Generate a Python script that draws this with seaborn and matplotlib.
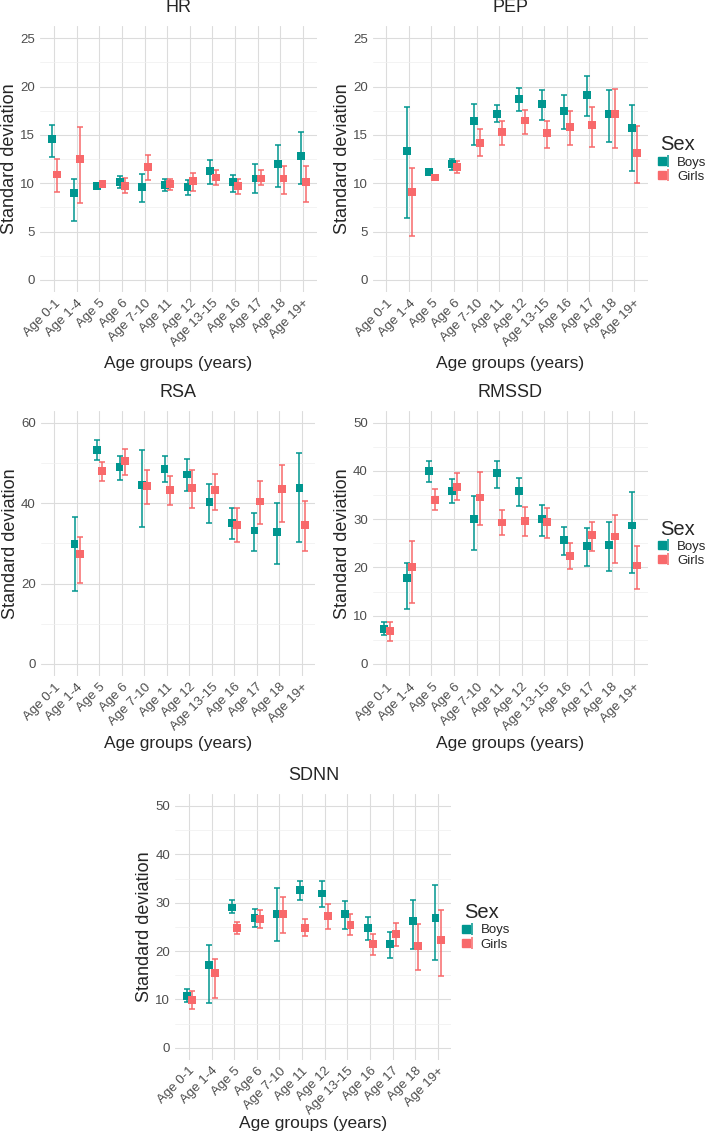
import numpy as np
import pandas as pd
import matplotlib
matplotlib.use("Agg")
import matplotlib.pyplot as plt
import seaborn as sns
from matplotlib.lines import Line2D
from matplotlib.legend_handler import HandlerTuple
from matplotlib.ticker import MultipleLocator

nan = np.nan

ages = ["Age 0-1", "Age 1-4", "Age 5", "Age 6", "Age 7-10", "Age 11",
        "Age 12", "Age 13-15", "Age 16", "Age 17", "Age 18", "Age 19+"]
sexes = ["Boys", "Girls"]

# HR
hr_boys = [14.6, 9.0, 9.7, 10.1, 9.6, 9.8, 9.6, 11.3, 10.1, 10.5, 12.0, 12.8]
hr_boys_lo = [12.7, 6.1, 9.4, 9.5, 8.1, 9.2, 8.8, 9.9, 9.1, 9.0, 9.6, 9.9]
hr_boys_hi = [16.0, 10.4, 9.9, 10.8, 11.0, 10.4, 10.3, 12.4, 10.9, 12.0, 14.0, 15.3]
hr_girls = [10.9, 12.5, 9.9, 9.7, 11.7, 9.9, 10.2, 10.6, 9.7, 10.5, 10.5, 10.1]
hr_girls_lo = [9.1, 8.0, 9.6, 9.0, 10.3, 9.3, 9.2, 9.8, 8.9, 9.8, 8.9, 8.1]
hr_girls_hi = [12.5, 15.8, 10.1, 10.5, 12.9, 10.4, 11.1, 11.4, 10.4, 11.4, 11.8, 11.8]

# PEP
pep_boys = [nan, 13.3, 11.2, 12.0, 16.4, 17.2, 18.7, 18.2, 17.5, 19.1, 17.2, 15.7]
pep_boys_lo = [nan, 6.4, 11.0, 11.4, 14.0, 16.3, 17.5, 16.5, 15.6, 17.0, 14.3, 11.3]
pep_boys_hi = [nan, 17.9, 11.4, 12.5, 18.2, 18.1, 19.9, 19.6, 19.1, 21.1, 19.6, 18.1]
pep_girls = [nan, 9.1, 10.6, 11.7, 14.2, 15.3, 16.5, 15.2, 15.8, 16.0, 17.2, 13.1]
pep_girls_lo = [nan, 4.5, 10.4, 11.1, 12.8, 14.0, 15.1, 13.7, 14.0, 13.8, 13.7, 10.0]
pep_girls_hi = [nan, 11.6, 10.8, 12.3, 15.6, 16.4, 17.6, 16.4, 17.5, 17.9, 19.8, 15.9]

# RSA
rsa_boys = [nan, 29.8, 53.1, 48.9, 44.4, 48.5, 47.1, 40.2, 35.0, 33.2, 32.9, 43.7]
rsa_boys_lo = [nan, 18.1, 50.8, 45.8, 34.1, 45.2, 43.0, 35.1, 31.0, 28.2, 24.8, 30.2]
rsa_boys_hi = [nan, 36.6, 55.6, 51.7, 53.3, 51.6, 50.9, 44.7, 38.7, 37.6, 40.0, 52.5]
rsa_girls = [nan, 27.3, 47.9, 50.5, 44.3, 43.2, 43.7, 43.2, 34.6, 40.4, 43.5, 34.5]
rsa_girls_lo = [nan, 20.1, 45.4, 46.9, 39.7, 39.5, 38.9, 38.3, 30.3, 34.8, 35.3, 28.2]
rsa_girls_hi = [nan, 31.6, 50.3, 53.5, 48.3, 46.7, 48.2, 47.3, 38.8, 45.6, 49.5, 40.5]

# RMSSD
rmssd_boys = [7.3, 17.8, 39.9, 35.9, 30.0, 39.6, 35.8, 30.0, 25.7, 24.4, 24.7, 28.7]
rmssd_boys_lo = [5.9, 11.4, 37.8, 33.4, 23.6, 36.5, 32.8, 26.6, 22.6, 20.3, 19.3, 18.8]
rmssd_boys_hi = [8.6, 21.0, 42.0, 38.3, 34.8, 42.1, 38.5, 32.9, 28.3, 28.1, 29.5, 35.6]
rmssd_girls = [6.9, 20.1, 34.0, 36.7, 34.5, 29.3, 29.6, 29.4, 22.4, 26.7, 26.4, 20.4]
rmssd_girls_lo = [4.8, 12.7, 32.0, 33.9, 28.8, 26.7, 26.6, 26.0, 19.7, 23.4, 20.9, 15.6]
rmssd_girls_hi = [8.6, 25.4, 36.2, 39.6, 39.7, 31.9, 32.6, 32.4, 25.1, 29.5, 30.9, 24.4]

# SDNN
sdnn_boys = [10.7, 17.1, 29.0, 26.9, 27.7, 32.6, 31.9, 27.7, 24.7, 21.4, 26.2, 26.9]
sdnn_boys_lo = [9.5, 9.3, 27.8, 25.0, 22.1, 30.5, 29.1, 24.6, 22.3, 18.6, 20.5, 18.1]
sdnn_boys_hi = [12.1, 21.3, 30.5, 28.6, 33.1, 34.4, 34.4, 30.3, 27.0, 24.0, 30.6, 33.7]
sdnn_girls = [9.9, 15.4, 24.8, 26.7, 27.7, 24.8, 27.2, 25.3, 21.4, 23.5, 21.0, 22.2]
sdnn_girls_lo = [8.0, 10.3, 23.5, 24.8, 23.7, 23.1, 24.6, 23.3, 19.1, 21.1, 16.0, 14.9]
sdnn_girls_hi = [11.8, 18.3, 26.0, 28.4, 31.1, 26.6, 29.7, 27.6, 23.6, 25.8, 25.5, 28.4]

colors = {"Boys": "#00968F", "Girls": "#F8696B"}
dodge = {"Boys": -0.1, "Girls": 0.14}


def make_df(boys, boys_lo, boys_hi, girls, girls_lo, girls_hi):
    parts = []
    for sex, est, lo, hi in [("Boys", boys, boys_lo, boys_hi),
                             ("Girls", girls, girls_lo, girls_hi)]:
        parts.append(pd.DataFrame({"age": ages, "sex": sex, "sd": est,
                                   "lo": lo, "hi": hi}))
    df = pd.concat(parts, ignore_index=True)
    df["pos"] = df["age"].map({a: i for i, a in enumerate(ages)}) + df["sex"].map(dodge)
    return df


# name, data, y max, y step, panel box in pixels (l, t, r, b), x-label baseline offset, legend
panels = [
    ("HR", make_df(hr_boys, hr_boys_lo, hr_boys_hi, hr_girls, hr_girls_lo, hr_girls_hi),
     25, 5, (40.4, 26.2, 316.6, 292), 76, False),
    ("PEP", make_df(pep_boys, pep_boys_lo, pep_boys_hi, pep_girls, pep_girls_lo, pep_girls_hi),
     25, 5, (373, 26.2, 647.5, 292), 76, True),
    ("RSA", make_df(rsa_boys, rsa_boys_lo, rsa_boys_hi, rsa_girls, rsa_girls_lo, rsa_girls_hi),
     60, 20, (40.8, 410.6, 315.2, 676), 72, False),
    ("RMSSD", make_df(rmssd_boys, rmssd_boys_lo, rmssd_boys_hi, rmssd_girls, rmssd_girls_lo, rmssd_girls_hi),
     50, 10, (373, 410.6, 647.5, 676), 72, True),
    ("SDNN", make_df(sdnn_boys, sdnn_boys_lo, sdnn_boys_hi, sdnn_girls, sdnn_girls_lo, sdnn_girls_hi),
     50, 10, (175.4, 793.9, 451.3, 1059.8), 68, True),
]

sns.set_theme(style="whitegrid")
plt.rcParams["font.family"] = ["Liberation Sans", "DejaVu Sans"]

W, H = 709, 1133
fig = plt.figure(figsize=(W / 100, H / 100), dpi=100)

for title, df, ymax, step, (l, t, r, b), xlab_off, show_legend in panels:
    ax = fig.add_axes([l / W, 1 - b / H, (r - l) / W, (b - t) / H])
    ax.set_facecolor("white")
    for s in ax.spines.values():
        s.set_visible(False)

    for sex in sexes:
        d = df[df["sex"] == sex]
        ax.errorbar(d["pos"], d["sd"], yerr=[d["sd"] - d["lo"], d["hi"] - d["sd"]],
                    fmt="none", ecolor=colors[sex], elinewidth=1.1, capsize=2.2,
                    capthick=1.1, zorder=3)
    sns.scatterplot(data=df, x="pos", y="sd", hue="sex", hue_order=sexes,
                    palette=colors, marker="s", s=32, linewidth=0, legend=False,
                    ax=ax, zorder=4)

    ax.set_xlim(-0.6, len(ages) - 0.4)
    ax.set_ylim(-0.05 * ymax, 1.05 * ymax)
    ax.set_xticks(range(len(ages)))
    ax.set_xticklabels(ages, rotation=45, ha="right", va="top",
                       rotation_mode="anchor", fontsize=9.5, color="#4D4D4D")
    ax.yaxis.set_major_locator(MultipleLocator(step))
    ax.yaxis.set_minor_locator(MultipleLocator(step / 2))
    ax.tick_params(axis="y", labelsize=9.5, labelcolor="#4D4D4D")
    ax.tick_params(which="major", length=2.2, width=0.7, color="#555555", pad=1.5)
    ax.tick_params(which="minor", length=0)
    ax.grid(which="major", axis="both", color="#DCDCDC", linewidth=0.8)
    ax.grid(which="minor", axis="y", color="#EFEFEF", linewidth=0.5)
    ax.set_axisbelow(True)

    ax.set_title(title, fontsize=13, pad=10)
    ax.set_xlabel("Age groups (years)", fontsize=12.5, va="baseline")
    ax.set_ylabel("Standard deviation", fontsize=13)
    ax.xaxis.set_label_coords(0.5, -xlab_off / (b - t))
    ax.yaxis.set_label_coords(-0.081, 0.5)

    if show_legend:
        handles = [(Line2D([], [], marker="s", ls="none", color=colors[sx], ms=6),
                    Line2D([], [], marker="|", ls="none", color=colors[sx], ms=9, mew=1.1))
                   for sx in sexes]
        ax.legend(handles, sexes, handler_map={tuple: HandlerTuple(ndivide=None)},
                  title="Sex", loc="center left", bbox_to_anchor=(1.045, 0.5),
                  frameon=False, fontsize=9.5, title_fontsize=14.5, handlelength=0.8,
                  handletextpad=0.5, labelspacing=0.15, borderpad=0, borderaxespad=0,
                  alignment="left")

fig.savefig("out.png", dpi=100)
